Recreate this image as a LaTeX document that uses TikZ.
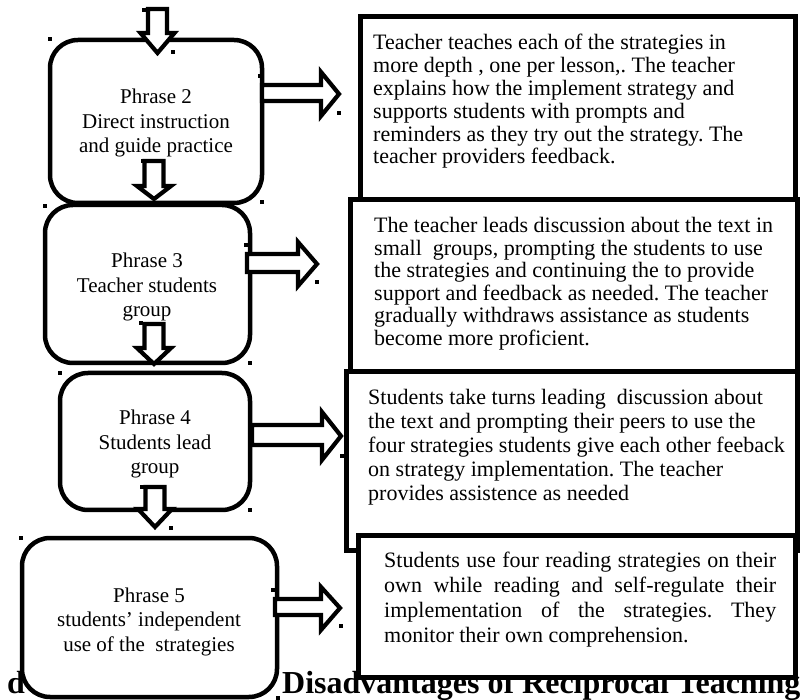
\documentclass[tikz,border=0pt]{standalone}
\usepackage{fontspec}
\setmainfont{Liberation Serif}
\frenchspacing
\newcommand{\lft}{\fontsize{21}{24.5}\selectfont}
\newcommand{\rgt}[1]{\fontsize{22}{#1}\selectfont}
\begin{document}
\begin{tikzpicture}[x=1pt,y=-1pt,
  lbox/.style={draw=black, line width=4.5pt, fill=white, rounded corners=28pt},
  rbox/.style={draw=black, line width=5pt, fill=white},
  blockarrow/.style={draw=black, line width=4.2pt, fill=white, line join=miter},
  ltext/.style={anchor=base, inner sep=0pt},
  rtext/.style={anchor=base west, inner sep=0pt},
  handle/.style={fill=black}]
\useasboundingbox (0,0) rectangle (801,700);
\fill[white] (0,0) rectangle (801,700);
% heading (mostly hidden)
\node[rtext, font=\fontsize{32}{36}\selectfont\bfseries] (hd0) at (7,693) {d};
\node[rtext, font=\fontsize{32}{36}\selectfont\bfseries] (hd) at (282,693) {Disadvantages of Reciprocal Teaching};
% right boxes
\draw[rbox] (360,17) rectangle (795,200);
\draw[rbox] (350,200) rectangle (797,372);
\draw[rbox] (346,372) rectangle (797,550);
\draw[rbox] (358,535) rectangle (795,677);
% left boxes
\draw[lbox] (50,40) rectangle (262,203);
\draw[lbox] (45,205) rectangle (250,363);
\draw[lbox] (60,373) rectangle (250,510);
\draw[lbox] (22,538) rectangle (277,697);
% left texts
\node[ltext] (t2) at (156,104) {\parbox[t]{220pt}{\centering\lft Phrase 2\\ Direct instruction\\ and guide practice}};
\node[ltext] (t3) at (147,268) {\parbox[t]{220pt}{\centering\lft Phrase 3\\ Teacher students\\ group}};
\node[ltext] (t4) at (155,425) {\parbox[t]{220pt}{\centering\lft Phrase 4\\ Students lead\\ group}};
\node[ltext] (t5) at (149,602) {\parbox[t]{260pt}{\centering\lft Phrase 5\\ students’ independent\\ use of the~ strategies}};
% right texts
\node[rtext] (r1) at (373,50) {\parbox[t]{420pt}{\raggedright\rgt{22.8}Teacher teaches each of the strategies in\\ more depth , one per lesson,. The teacher\\ explains how the implement strategy and\\ supports students with prompts and\\ reminders as they try out the strategy. The\\ teacher providers feedback.}};
\node[rtext] (r2) at (374,233) {\parbox[t]{420pt}{\raggedright\rgt{22.5}The teacher leads discussion about the text in\\ small~ groups, prompting the students to use\\ the strategies and continuing the to provide\\ support and feedback as needed. The teacher\\ gradually withdraws assistance as students\\ become more proficient.}};
\node[rtext] (r3) at (368,405) {\parbox[t]{420pt}{\raggedright\rgt{24}Students take turns leading~ discussion about\\ the text and prompting their peers to use the\\ four strategies students give each other feeback\\ on strategy implementation. The teacher\\ provides assistence as needed}};
\node[rtext] (r4) at (384,567) {\parbox[t]{392pt}{\rgt{25}\makebox[392pt][s]{Students use four reading strategies on their}\\ \makebox[392pt][s]{own while reading and self-regulate their}\\ \makebox[392pt][s]{implementation of the strategies. They}\\ monitor their own comprehension.}};
% down arrows
\draw[blockarrow] (148,9) -- (148,33) -- (140.5,33) -- (157.5,53) -- (174.5,33) -- (167,33) -- (167,9) -- cycle;
\draw[blockarrow] (144.5,161) -- (144.5,186) -- (137,186) -- (154,199) -- (171,186) -- (163.5,186) -- (163.5,161) -- cycle;
\draw[blockarrow] (144.5,324) -- (144.5,348) -- (137,348) -- (154,364) -- (171,348) -- (163.5,348) -- (163.5,324) -- cycle;
\draw[blockarrow] (145.5,487) -- (145.5,509) -- (138,509) -- (155,527) -- (172,509) -- (164.5,509) -- (164.5,487) -- cycle;
% right arrows
\draw[blockarrow] (262,85) -- (321,85) -- (321,72) -- (339,94) -- (321,116) -- (321,101) -- (262,101) -- cycle;
\draw[blockarrow] (247,254) -- (298,254) -- (298,242) -- (317,264) -- (298,286) -- (298,272) -- (247,272) -- cycle;
\draw[blockarrow] (252,425) -- (322,425) -- (322,412) -- (341,436) -- (322,460) -- (322,445) -- (252,445) -- cycle;
\draw[blockarrow] (275,599) -- (321,599) -- (321,587) -- (340,608) -- (321,630) -- (321,615) -- (275,615) -- cycle;
% selection handles
\foreach \hx/\hy in {144/10,173/52,50/39,262/202,143/161,45/206,339/113,260/76,246/245,317/282,141/323,250/363,170/363,60/373,142/487,250/510,171/528,21/538,273/590,341/626,278/698,342/456}
  \fill[handle] (\hx-2,\hy-2) rectangle (\hx+2,\hy+2);
\end{tikzpicture}
\end{document}
